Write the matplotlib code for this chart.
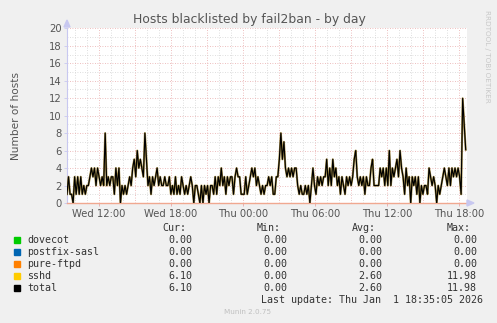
import numpy as np
import matplotlib.pyplot as plt

# hosts blacklisted (roughly every 7.5 min)
sshd = [1, 3, 1, 1, 0, 3, 1, 3, 1, 3,
        1, 2, 1, 2, 2, 3, 4, 3, 4, 2,
        4, 3, 2, 3, 2, 8, 2, 3, 2, 3,
        3, 1, 4, 2, 4, 0, 2, 1, 2, 1,
        2, 3, 2, 4, 5, 3, 6, 4, 5, 4,
        3, 8, 5, 2, 3, 1, 3, 2, 3, 4,
        2, 3, 2, 2, 3, 2, 2, 3, 1, 2,
        1, 3, 1, 2, 1, 3, 2, 1, 2, 1,
        2, 3, 2, 0, 2, 2, 1, 0, 2, 0,
        2, 1, 2, 0, 2, 2, 1, 3, 1, 3,
        2, 4, 2, 3, 1, 3, 2, 3, 3, 1,
        3, 4, 3, 3, 1, 1,
        1, 3, 1, 2, 3, 4, 3, 4, 2, 3,
        2, 1, 2, 1, 2, 2, 3, 2, 3, 1,
        1, 3, 3, 5, 8, 5, 7, 4, 3, 4,
        3, 4, 3, 4, 4, 2, 1, 2, 1, 1,
        2, 1, 2, 0, 2, 4, 2, 1, 3, 2,
        3, 2, 3, 3, 5, 2, 4, 2, 5, 3,
        4, 2, 3, 1, 3, 2, 1, 3, 2, 3,
        2, 3, 5, 6, 3, 2, 3, 2, 3, 1,
        3, 2, 2, 4, 5, 2, 2, 2, 2, 4,
        3, 4, 2, 4, 2, 6, 2, 4, 3, 4,
        5, 3, 6, 4, 3, 1, 4, 2, 3, 0,
        3, 2, 3, 1, 3, 0, 2, 1, 2, 2,
        1, 4, 3, 2, 3, 2, 0, 2, 1, 2,
        3, 4, 3, 2, 4, 2, 4, 3, 4, 3,
        4, 3, 1, 11.98, 9, 6.1]
total = list(sshd)
dovecot = [0.0] * len(sshd)
postfix_sasl = [0.0] * len(sshd)
pure_ftpd = [0.0] * len(sshd)

# hours since Wed 00:00
t_start, t_end = 9.333, 42.56
tick_hours = [12, 18, 24, 30, 36, 42]
tick_labels = ["Wed 12:00", "Wed 18:00", "Thu 00:00", "Thu 06:00", "Thu 12:00", "Thu 18:00"]

names = ["dovecot", "postfix-sasl", "pure-ftpd", "sshd", "total"]
colors = ["#00CC00", "#0066B3", "#FF8000", "#FFCC00", "#000000"]
stats = [("0.00", "0.00", "0.00", "0.00"),
         ("0.00", "0.00", "0.00", "0.00"),
         ("0.00", "0.00", "0.00", "0.00"),
         ("6.10", "0.00", "2.60", "11.98"),
         ("6.10", "0.00", "2.60", "11.98")]

W, H = 497, 323
fig = plt.figure(figsize=(W / 100, H / 100), dpi=100, facecolor="#F0F0F0")
ax = fig.add_axes([67 / W, 1 - 203 / H, 400 / W, 174.7 / H])
ax.set_facecolor("white")

t = np.linspace(t_start, t_end, len(sshd))
for vals, c in zip([dovecot, postfix_sasl, pure_ftpd], colors[:3]):
    ax.plot(t, vals, color=c, lw=0.6, zorder=2)
ax.plot(t, sshd, color="#A89048", lw=1.5, zorder=4)
ax.plot(t, total, color="black", lw=0.85, zorder=5)

ax.set_xlim(9.333, 42.667)
ax.set_ylim(0, 20)

# grid: minor every hour / unit, major every 3 hours / 2 units
for h in np.arange(10, 43, 1):
    major = h % 3 == 0
    ax.axvline(h, color="#E8A8A8" if major else "#D4D4D4", lw=0.6,
               ls=(0, (1, 2)), zorder=1)
for v in range(1, 21):
    major = v % 2 == 0
    ax.axhline(v, color="#E8A8A8" if major else "#D4D4D4", lw=0.6,
               ls=(0, (1, 2)), zorder=1)

ax.set_xticks(tick_hours)
ax.set_xticklabels(tick_labels)
ax.set_yticks(range(0, 21, 2))
ax.tick_params(labelsize=7.2, colors="#555555", length=2, width=0.6, pad=2)
ax.tick_params(axis="x", colors="#E8A8A8", labelcolor="#555555")
ax.tick_params(axis="y", colors="#C8C8F0", labelcolor="#555555")
for s in ["top", "right"]:
    ax.spines[s].set_visible(False)
ax.spines["left"].set_color("#C8C8F0")
ax.spines["bottom"].set_color("#F0A890")
ax.spines["left"].set_linewidth(0.8)
ax.spines["bottom"].set_linewidth(1.0)
ax.spines["bottom"].set_zorder(3.5)

# axis arrows
fig.patches.append(plt.Polygon([[64 / W, 1 - 27 / H], [70 / W, 1 - 27 / H], [67 / W, 1 - 20 / H]],
                               closed=True, transform=fig.transFigure, color="#C8C8F0"))
fig.patches.append(plt.Polygon([[467 / W, 1 - 200 / H], [467 / W, 1 - 206 / H], [474 / W, 1 - 203 / H]],
                               closed=True, transform=fig.transFigure, color="#C8C8F0"))

fig.text(249 / W, 1 - 19 / H, "Hosts blacklisted by fail2ban - by day", ha="center", va="center",
         fontsize=8.9, color="#555555")
fig.text(16 / W, 1 - 116 / H, "Number of hosts", rotation=90, ha="center", va="center",
         fontsize=7.6, color="#555555")
fig.text(487 / W, 1 - 56 / H, "RRDTOOL / TOBI OETIKER", rotation=270, ha="center", va="center",
         fontsize=5.2, color="#C8C8C8")

mono = "DejaVu Sans Mono"
fs = 7.2
col_x = [192, 287, 382, 477]
for hdr, x in zip(["Cur:", "Min:", "Avg:", "Max:"], col_x):
    fig.text((x - 6) / W, 1 - 228 / H, hdr, ha="right", va="center", family=mono,
             fontsize=fs, color="#333333")
for i, (name, c, st) in enumerate(zip(names, colors, stats)):
    y = 240 + i * 12
    fig.patches.append(plt.Rectangle((14 / W, 1 - (y + 3) / H), 6 / W, 6 / H,
                                     transform=fig.transFigure, color=c))
    fig.text(27 / W, 1 - y / H, name, ha="left", va="center", family=mono,
             fontsize=fs, color="#333333")
    for v, x in zip(st, col_x):
        fig.text(x / W, 1 - y / H, v, ha="right", va="center", family=mono,
                 fontsize=fs, color="#333333")
fig.text(483 / W, 1 - 300 / H, "Last update: Thu Jan  1 18:35:05 2026", ha="right",
         va="center", family=mono, fontsize=fs, color="#333333")
fig.text(248 / W, 1 - 312 / H, "Munin 2.0.75", ha="center", va="center",
         fontsize=5.2, color="#C0C0C0")

fig.savefig("out.png", dpi=100, facecolor=fig.get_facecolor())
